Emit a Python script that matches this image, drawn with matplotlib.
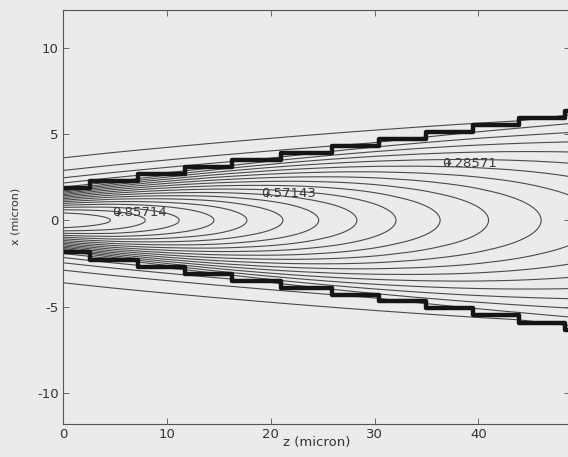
import matplotlib
matplotlib.use('Agg')

import numpy as np
import matplotlib.pyplot as plt

plt.rcParams['font.family'] = ['DejaVu Sans']

# contour levels: k/21, k = 1..20
levels = [0.047619, 0.095238, 0.142857, 0.190476, 0.238095, 0.285714, 0.333333,
          0.380952, 0.428571, 0.476190, 0.523810, 0.571429, 0.619048, 0.666667,
          0.714286, 0.761905, 0.809524, 0.857143, 0.904762, 0.952381]

axis_z = [0.0, 4.6, 7.9, 11.2, 14.5, 17.7, 21.2, 24.6, 28.3, 32.1, 36.3, 41.0, 46.0, 51.5]
axis_amp = [1.0, 0.952, 0.905, 0.857, 0.810, 0.762, 0.714, 0.667, 0.619, 0.571,
            0.524, 0.476, 0.429, 0.381]

# staircase waveguide boundary (upper edge, lower is mirrored)
step_z = [0.0, 2.6, 7.2, 11.7, 16.3, 21.0, 25.9, 30.4, 35.0, 39.5, 43.9, 48.3, 49.5]
step_x = [1.85, 2.3, 2.7, 3.1, 3.5, 3.9, 4.3, 4.7, 5.1, 5.5, 5.95, 6.35, 6.35]

# core phase parameter, estimated from contour spacing at a few z
phase_z = [0.0, 21.0, 44.0, 50.0]
phase_u = [1.3, 1.38, 1.465, 1.48]
decay = 0.95   # 1/micron, outside the core

# contour label anchors (z, x, level index)
label_z = [5.3, 19.6, 37.1]
label_x = [0.45, 1.55, 3.3]
label_i = [17, 11, 5]

line_col = '#4a4a4a'
bg = '#ebebeb'

# smooth core half width through the middle of each stair tread
mid_z = [(a + b) / 2 for a, b in zip(step_z[:-1], step_z[1:])]
fit = np.polyfit(mid_z, step_x[:-1], 1)

z = np.linspace(0, 49.5, 500)
x = np.linspace(-12.5, 12.5, 800)
Z, X = np.meshgrid(z, x)
A = np.interp(Z, axis_z, axis_amp)
W = np.polyval(fit, Z)
U = np.interp(Z, phase_z, phase_u)
ax_abs = np.abs(X)
F = np.where(ax_abs < W, A * np.cos(U * ax_abs / W),
             A * np.cos(U) * np.exp(-decay * (ax_abs - W)))

fig = plt.figure(figsize=(5.68, 4.57), dpi=100, facecolor=bg)
ax = fig.add_axes([0.111, 0.072, 0.892, 0.907])
ax.set_facecolor(bg)

ax.contour(Z, X, F, levels=levels, colors=line_col, linewidths=0.8)

ax.step(step_z, step_x, where='post', color='#151515', lw=3.2)
ax.step(step_z, [-v for v in step_x], where='post', color='#151515', lw=3.2)

for lz, lx, li in zip(label_z, label_x, label_i):
    ax.text(lz - 0.55, lx, '%.5g' % levels[li], fontsize=9.5, color='#3a3a3a',
            ha='left', va='center')
    ax.plot(lz, lx, '+', color='#3a3a3a', ms=5, mew=0.8)

ax.set_xlim(0, 48.8)
ax.set_ylim(-11.8, 12.2)
ax.set_xticks([0, 10, 20, 30, 40])
ax.set_yticks([-10, -5, 0, 5, 10])
ax.set_yticklabels(['-10', '-5', '0', '5', '10'])
ax.tick_params(direction='in', length=4, width=0.6, colors='#555555',
               labelcolor='#333333', labelsize=9.5, top=True, right=True, pad=3)
for sp in ax.spines.values():
    sp.set_color('#555555')
    sp.set_linewidth(0.8)

ax.set_xlabel('z (micron)', fontsize=9.5, color='#333333', labelpad=-4)
ax.set_ylabel('x (micron)', fontsize=8, color='#333333', labelpad=12)

fig.savefig('out.png', dpi=100, facecolor=bg)
